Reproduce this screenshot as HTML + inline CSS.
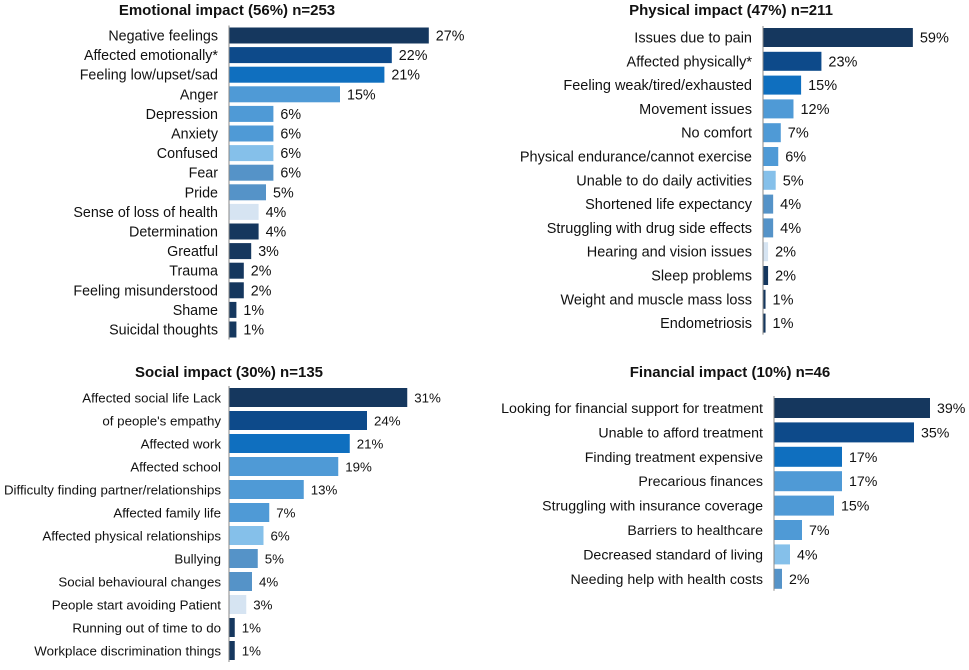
<!DOCTYPE html>
<html><head><meta charset="utf-8"><style>
body{margin:0;background:#fff;width:969px;height:665px;overflow:hidden}
svg text{font-family:"Liberation Sans",sans-serif;fill:#111}
</style></head><body>
<svg id="c" width="969" height="665" xmlns="http://www.w3.org/2000/svg"></svg>
<script>
const emoCats=["Negative feelings","Affected emotionally*","Feeling low/upset/sad","Anger","Depression","Anxiety","Confused","Fear","Pride","Sense of loss of health","Determination","Greatful","Trauma","Feeling misunderstood","Shame","Suicidal thoughts"];
const emoVals=[27,22,21,15,6,6,6,6,5,4,4,3,2,2,1,1];
const phyCats=["Issues due to pain","Affected physically*","Feeling weak/tired/exhausted","Movement issues","No comfort","Physical endurance/cannot exercise","Unable to do daily activities","Shortened life expectancy","Struggling with drug side effects","Hearing and vision issues","Sleep problems","Weight and muscle mass loss","Endometriosis"];
const phyVals=[59,23,15,12,7,6,5,4,4,2,2,1,1];
const socCats=["Affected social life Lack","of people's empathy","Affected work","Affected school","Difficulty finding partner/relationships","Affected family life","Affected physical relationships","Bullying","Social behavioural changes","People start avoiding Patient","Running out of time to do","Workplace discrimination things"];
const socVals=[31,24,21,19,13,7,6,5,4,3,1,1];
const finCats=["Looking for financial support for treatment","Unable to afford treatment","Finding treatment expensive","Precarious finances","Struggling with insurance coverage","Barriers to healthcare","Decreased standard of living","Needing help with health costs"];
const finVals=[39,35,17,17,15,7,4,2];
const colors=["#15375e","#0d4a8a","#0f6fbf","#4f9ad6","#4f9ad6","#4f9ad6","#85c0ea","#5593c8","#5593c8","#d6e4f2","#15375e","#15375e","#15375e","#15375e","#15375e","#15375e"];
const NS="http://www.w3.org/2000/svg";
const svg=document.getElementById('c');
function mk(t,a){const e=document.createElementNS(NS,t);for(const k in a)e.setAttribute(k,a[k]);return e;}
function panel(id,title,tx,ty,cats,vals,ax,y0,pitch,bh,ppu,colorMap,fs,gap){
  const g=mk('g',{});
  
  
  svg.appendChild(g);
  const t=mk('text',{x:tx,y:ty,'text-anchor':'middle','font-size':'15','font-weight':'bold'});
  
  
  t.textContent=title;g.appendChild(t);
  const xs=v=>ax+v*ppu;
  cats.forEach((c,i)=>{
    const y=y0+i*pitch;
    const r=mk('rect',{x:ax,y:y,width:xs(vals[i])-ax,height:bh,fill:colorMap[i]});
    
    
    g.appendChild(r);
    const l=mk('text',{x:ax-gap,y:y+bh/2+5,'text-anchor':'end','font-size':fs});
    
    
    l.textContent=c;g.appendChild(l);
    const v=mk('text',{x:xs(vals[i])+7,y:y+bh/2+5,'font-size':fs});
    
    
    v.textContent=vals[i]+'%';g.appendChild(v);
  });
  const a=mk('line',{x1:ax,x2:ax,y1:y0-2,y2:y0+(cats.length-1)*pitch+bh+2,stroke:'#888','stroke-width':1});
  
  
  g.appendChild(a);
}
panel('emotional','Emotional impact (56%) n=253',227,15,emoCats,emoVals,229,27.5,19.6,16,7.4,colors,14.3,11);
panel('physical','Physical impact (47%) n=211',731,15,phyCats,phyVals,763,28,23.8,19,2.54,colors,14.5,11);
panel('social','Social impact (30%) n=135',229,377,socCats,socVals,229,388,23,19,5.75,colors,13.3,8);
panel('financial','Financial impact (10%) n=46',730,377,finCats,finVals,774,398,24.4,20,4.0,colors,14.2,11);
</script>
</body></html>
